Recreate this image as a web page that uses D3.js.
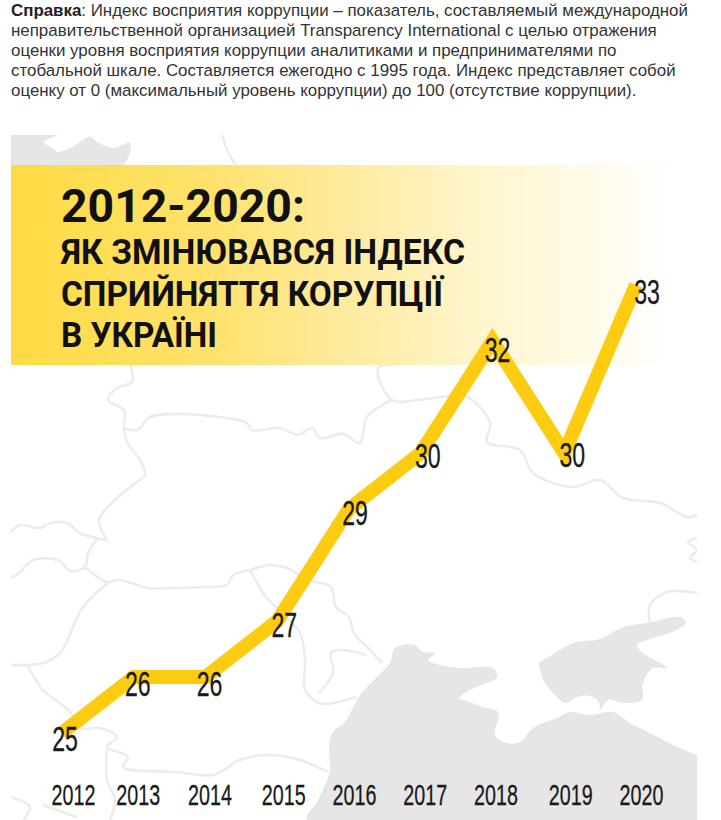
<!DOCTYPE html>
<html>
<head>
<meta charset="utf-8">
<script src="https://cdn.jsdelivr.net/npm/d3@7"></script>
<style>
	html, body { margin: 0; padding: 0; background: #fff; overflow: hidden; }
	svg { display: block; font-family: "Liberation Sans", Arial, sans-serif; }
</style>
</head>
<body>
<svg id="chart"></svg>
<script>
const years = [2012, 2013, 2014, 2015, 2016, 2017, 2018, 2019, 2020],
	cpiValues = [25, 26, 26, 27, 29, 30, 32, 30, 33],
	introLines = [
		['Справка', ': Индекс восприятия коррупции – показатель, составляемый международной'],
		['', 'неправительственной организацией Transparency International с целью отражения'],
		['', 'оценки уровня восприятия коррупции аналитиками и предпринимателями по'],
		['', 'стобальной шкале. Составляется ежегодно с 1995 года. Индекс представляет собой'],
		['', 'оценку от 0 (максимальный уровень коррупции) до 100 (отсутствие коррупции).']
	],
	titleLines = ['2012-2020:', 'ЯК ЗМІНЮВАВСЯ ІНДЕКС', 'СПРИЙНЯТТЯ КОРУПЦІЇ', 'В УКРАЇНІ'];

// layout, by hand from the picture
const width = 721,
	height = 820,
	imgLeft = 11,
	imgRight = 697,
	imgTop = 135,
	titleLayout = [
		{y: 222, w: 244, size: 47},
		{y: 264, w: 404, size: 35},
		{y: 306, w: 382, size: 35},
		{y: 347, w: 156, size: 35}
	],
	// the labels in the picture were placed by hand, so they do not sit on a grid
	yearNudge = [11, 4, 4, 6, 5, 4, 3, 6, 5],
	valueNudge = [[3, 6], [4, 7], [4, 7], [7, 4], [6, 4], [7, 3], [5, 9], [8, 2], [11, 7]];

// background map, traced
const seaOutlines = [
	[[697,755],[673,745],[650,733],[630,723],[613,712],[590,715],[570,712],[557,718],[533,728],[520,742],[507,743],[495,735],[498,720],[498,712],[483,707],[467,701],[459,698],[470,690],[497,677],[493,668],[460,668],[440,665],[428,660],[435,653],[423,652],[415,645],[395,648],[390,663],[377,677],[360,695],[345,722],[332,733],[329,750],[330,770],[318,800],[307,820],[697,820]],
	[[538,663],[552,655],[573,643],[600,639],[613,632],[627,626],[647,623],[680,617],[686,622],[677,630],[653,638],[637,645],[643,653],[667,668],[653,668],[643,683],[642,700],[623,703],[608,700],[600,710],[599,702],[590,696],[577,697],[565,703],[553,693],[543,680]],
	[[11,135],[57,135],[44,142],[55,150],[57,152],[70,148],[90,137],[97,142],[113,148],[130,143],[123,165],[11,165]]
];
const borders = [
	[[222,135],[227,150],[235,165],[248,195],[257,235],[253,272],[238,300],[232,340],[130,365]],
	[[33,228],[83,225],[160,222],[233,232],[257,235]],
	[[130,365],[132,382],[117,388],[108,400],[124,410],[124,428],[127,442],[140,460],[145,475],[137,482],[117,498],[99,520],[105,537],[108,542]],
	[[124,428],[137,430],[150,417],[177,414],[200,415],[247,423],[252,430],[280,428],[298,435],[312,428],[320,438],[343,434],[360,443],[367,417],[392,400]],
	[[11,532],[20,525],[40,528],[50,523],[67,523],[80,533],[105,540]],
	[[98,538],[88,553],[85,567],[70,571],[58,560],[33,560],[20,572],[11,578]],
	[[85,567],[107,582],[120,580],[147,588],[173,588],[200,587],[227,585],[233,575],[250,570],[270,565],[287,568],[308,580],[331,587],[336,607],[349,617],[354,633],[370,650],[382,663]],
	[[250,570],[266,597],[282,613],[300,633],[305,660],[305,690],[319,703],[333,703],[356,697]],
	[[319,693],[333,673],[331,653],[342,650],[366,655]],
	[[108,583],[83,607],[60,653],[43,663],[27,665],[11,665]],
	[[27,665],[30,670],[43,690],[70,712],[80,728],[100,728],[117,737],[107,747],[128,757],[123,767],[177,772],[213,775],[240,760],[267,755],[300,760],[328,772]],
	[[107,750],[107,780],[115,800],[110,820]],
	[[11,797],[30,807],[23,820]],
	[[43,805],[77,817]],
	[[367,310],[390,333],[423,350],[400,363],[378,368],[392,400],[417,400],[443,397],[467,397],[490,423],[487,442],[520,450],[533,473],[573,487],[600,480],[623,498],[660,503],[687,517],[697,515]],
	[[697,538],[688,542],[697,550],[690,558],[697,562]],
	[[697,593],[667,592],[650,605],[650,623]]
];

const svg = d3.select('svg#chart')
	.attr('width', width)
	.attr('height', height);

const defs = svg.append('defs');
defs.append('clipPath').attr('id', 'imgClip')
	.append('rect')
	.attr('x', imgLeft)
	.attr('y', imgTop)
	.attr('width', imgRight - imgLeft)
	.attr('height', height - imgTop);

const grad = defs.append('linearGradient').attr('id', 'bannerFill');
[[0, '#ffd93b', 0.96], [0.3, '#ffe063', 0.93], [0.5, '#feea9c', 0.94], [0.7, '#fff6cf', 0.96], [0.88, '#fffcee', 1], [1, '#ffffff', 0]]
	.forEach(s => grad.append('stop')
		.attr('offset', s[0])
		.attr('stop-color', s[1])
		.attr('stop-opacity', s[2]));

// Intro text
const intro = svg.append('g')
	.attr('fill', '#333')
	.style('font-size', '16.9px');
introLines.forEach((l, i) => {
	const t = intro.append('text')
		.attr('x', 11)
		.attr('y', 15.5 + i * 20);
	if (l[0]) t.append('tspan').attr('font-weight', 'bold').attr('fill', '#222').text(l[0]);
	t.append('tspan').text(l[1]);
});

// Map
const mapLine = d3.line().curve(d3.curveCatmullRom.alpha(0.5));
const map = svg.append('g').attr('clip-path', 'url(#imgClip)');
map.selectAll('path.sea')
	.data(seaOutlines)
	.join('path')
	.classed('sea', true)
	.attr('d', d => mapLine(d) + 'Z')
	.attr('fill', '#e6e6e6');
map.selectAll('path.border')
	.data(borders)
	.join('path')
	.classed('border', true)
	.attr('d', mapLine)
	.attr('fill', 'none')
	.attr('stroke', '#ececec')
	.attr('stroke-width', 2.6);

// Banner
svg.append('rect')
	.attr('x', imgLeft)
	.attr('y', 165)
	.attr('width', imgRight - imgLeft)
	.attr('height', 200)
	.attr('fill', 'url(#bannerFill)');

svg.append('g')
	.attr('fill', '#111')
	.selectAll('text')
	.data(titleLines)
	.join('text')
	.attr('x', 61)
	.attr('y', (d, i) => titleLayout[i].y)
	.attr('textLength', (d, i) => titleLayout[i].w)
	.attr('lengthAdjust', 'spacingAndGlyphs')
	.style('font-family', 'Roboto, sans-serif')
	.style('font-weight', 700)
	.style('font-size', (d, i) => titleLayout[i].size + 'px')
	.text(d => d);

// Scales
const x = d3.scalePoint().domain(years).range([62, 636]);
const y = d3.scaleLinear().domain([25, 33]).range([733, 285]);

// Line
const line = d3.line()
	.x((d, i) => x(years[i]))
	.y(d => y(d));
svg.append('path')
	.datum(cpiValues)
	.attr('d', line)
	.attr('fill', 'none')
	.attr('stroke', '#fdcb0f')
	.attr('stroke-width', 14)
	.attr('stroke-linejoin', 'miter')
	.attr('stroke-miterlimit', 6);

// Value labels
svg.append('g')
	.selectAll('text')
	.data(cpiValues)
	.join('text')
	.attr('transform', (d, i) => `translate(${x(years[i]) + valueNudge[i][0]},${y(d) + valueNudge[i][1] + 12}) scale(0.66,1)`)
	.attr('text-anchor', 'middle')
	.attr('fill', '#1a1a1a')
	.attr('stroke', '#1a1a1a')
	.attr('stroke-width', 0.3)
	.style('font-size', '35px')
	.text(d => d);

// Year axis
const axis = svg.append('g')
	.attr('transform', 'translate(0,784)')
	.call(d3.axisBottom(x).tickSize(0).tickPadding(0).tickFormat(d3.format('d')));
axis.select('.domain').remove();
axis.selectAll('text')
	.attr('dy', null)
	.attr('y', 21)
	.attr('transform', (d, i) => `translate(${yearNudge[i]},0) scale(0.68,1)`)
	.attr('fill', '#1a1a1a')
	.attr('stroke', '#1a1a1a')
	.attr('stroke-width', 0.3)
	.style('font-family', '"Liberation Sans", sans-serif')
	.style('font-size', '29px');
</script>
</body>
</html>
